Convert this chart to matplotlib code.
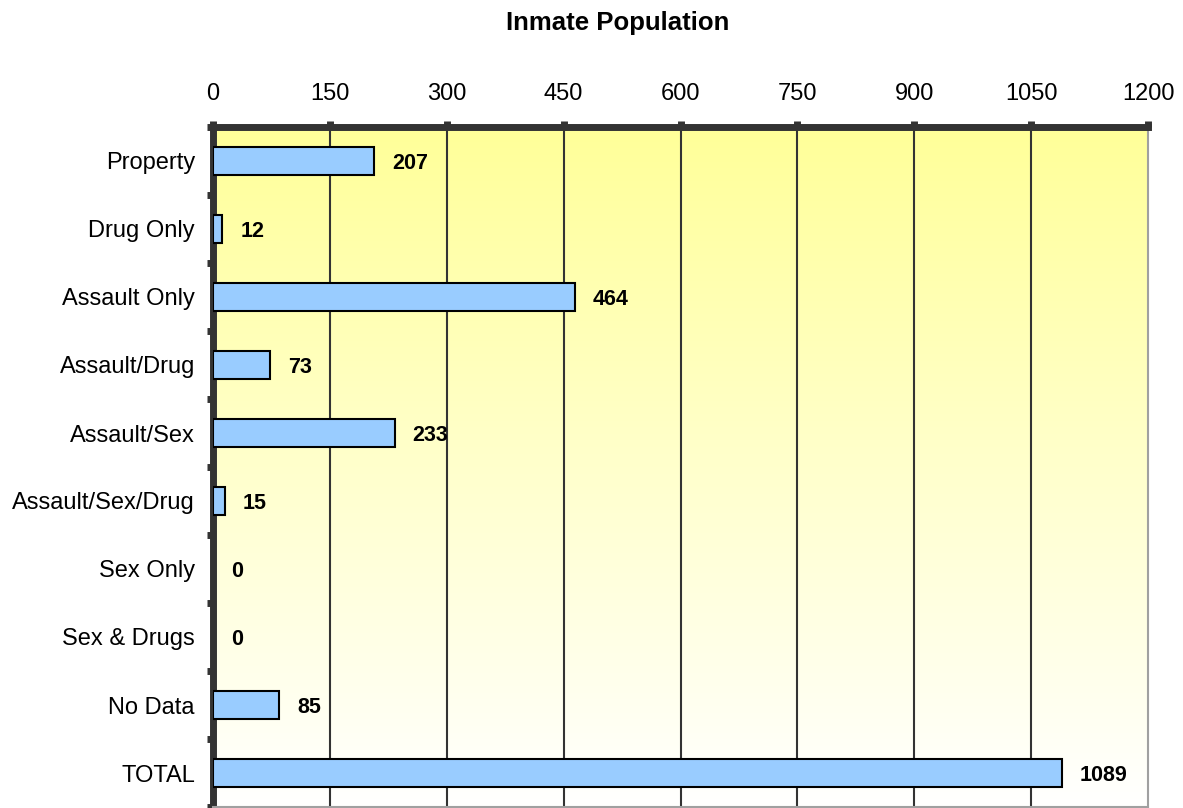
import numpy as np
import matplotlib.pyplot as plt
from matplotlib.colors import LinearSegmentedColormap

categories = ['Property', 'Drug Only', 'Assault Only', 'Assault/Drug', 'Assault/Sex',
              'Assault/Sex/Drug', 'Sex Only', 'Sex & Drugs', 'No Data', 'TOTAL']
values = [207, 12, 464, 73, 233, 15, 0, 0, 85, 1089]
xticks = [0, 150, 300, 450, 600, 750, 900, 1050, 1200]

plt.rcParams['font.family'] = ['Liberation Sans', 'DejaVu Sans']
dark = '#333333'

fig = plt.figure(figsize=(11.83, 8.08), dpi=100)
ax = fig.add_axes([213/1183, 1/808, (1148-213)/1183, (807-127)/808])

# yellow -> white gradient background
cmap = LinearSegmentedColormap.from_list('bg', ['#FFFFFF', '#FFFF99'])
grad = np.linspace(0, 1, 256).reshape(-1, 1)
ax.imshow(grad, cmap=cmap, aspect='auto', origin='lower',
          extent=[0, 1, 0, 1], transform=ax.transAxes, zorder=0)

y = np.arange(len(categories))
edge_w = [1.5 if v > 0 else 0 for v in values]
ax.barh(y, values, height=0.4, color='#99CCFF', edgecolor='black', linewidth=edge_w, zorder=3)

for yi, v in zip(y, values):
    ax.annotate(str(v), (v, yi), xytext=(13, -2), textcoords='offset points',
                ha='left', va='center', fontsize=15.5, fontweight='bold', zorder=4)

ax.set_xlim(0, 1200)
ax.set_ylim(len(categories) - 0.5, -0.5)
ax.set_xticks(xticks)
ax.xaxis.tick_top()
ax.tick_params(axis='x', labelsize=17, length=4, width=5, color=dark, pad=12)
ax.set_yticks(y)
ax.set_yticklabels(categories)
ax.set_yticks(np.arange(len(categories) + 1) - 0.5, minor=True)
ax.tick_params(axis='y', which='major', length=0, labelsize=17, pad=13)
ax.tick_params(axis='y', which='minor', length=4, width=5, color=dark)

for xv in xticks[1:-1]:
    ax.axvline(xv, color=dark, lw=1.5, zorder=1)

ax.spines['left'].set_color(dark)
ax.spines['left'].set_linewidth(5)
ax.spines['top'].set_color(dark)
ax.spines['top'].set_linewidth(5)
ax.spines['right'].set_color('#A0A0A0')
ax.spines['right'].set_linewidth(1.5)
ax.spines['bottom'].set_color('#A0A0A0')
ax.spines['bottom'].set_linewidth(1.5)

fig.text(618/1183, 1 - 23/808, 'Inmate Population', ha='center', va='center',
         fontsize=18.5, fontweight='bold')

fig.savefig('out.png', dpi=100)
